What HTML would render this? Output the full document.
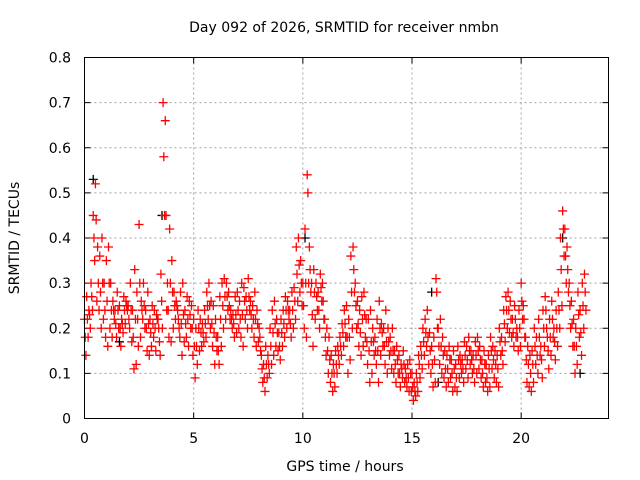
<!DOCTYPE html>
<html><head><meta charset="utf-8"><style>
html,body{margin:0;padding:0;background:#fff}
svg{display:block;font-family:"DejaVu Sans","Liberation Sans",sans-serif}
</style></head><body>
<svg id="chart" width="640" height="480" viewBox="0 0 640 480">
<rect x="0" y="0" width="640" height="480" fill="#fff"/>
<text x="344" y="32" text-anchor="middle" font-size="14" fill="#000">Day 092 of 2026, SRMTID for receiver nmbn</text>
<text transform="translate(19,238) rotate(-90)" text-anchor="middle" font-size="14">SRMTID / TECUs</text>
<text x="345" y="471" text-anchor="middle" font-size="14">GPS time / hours</text>
<g id="grid"></g>
<g id="ticks"></g>
<g id="marks"></g>
<rect x="84.5" y="57.5" width="524" height="361" fill="none" stroke="#000" stroke-width="1"/>
</svg>
<script>
const xTicks=[0,5,10,15,20];
const yTicks=[0,0.1,0.2,0.3,0.4,0.5,0.6,0.7,0.8];
const yTickLabels=["0","0.1","0.2","0.3","0.4","0.5","0.6","0.7","0.8"];
const seriesA=[.22,.27,.24,.30,.45,.52,.38,.36,.40,.30,.35,.38,.30,.26,.24,.28,.25,.22,.27,.26,.25,.30,.24,.33,.28,.43,.26,.30,.24,.28,.22,.25,.24,.23,.20,.32,.70,.66,.30,.42,.35,.28,.26,.22,.28,.30,.24,.27,.26,.25,.22,.20,.24,.22,.21,.24,.28,.30,.26,.25,.22,.18,.27,.30,.31,.30,.28,.24,.23,.27,.28,.26,.30,.29,.27,.31,.26,.25,.28,.24,.20,.14,.12,.16,.14,.20,.24,.26,.22,.19,.22,.24,.27,.26,.24,.28,.29,.38,.40,.35,.30,.42,.54,.38,.30,.33,.30,.28,.32,.30,.22,.20,.18,.14,.12,.15,.16,.18,.21,.24,.25,.22,.36,.38,.30,.26,.24,.27,.28,.22,.22,.24,.20,.18,.22,.26,.21,.20,.24,.20,.18,.20,.15,.16,.14,.12,.15,.11,.12,.13,.10,.08,.10,.14,.16,.20,.22,.24,.19,.16,.18,.31,.20,.22,.18,.15,.14,.16,.13,.15,.12,.16,.14,.13,.17,.16,.18,.15,.14,.17,.18,.16,.13,.15,.12,.14,.18,.16,.15,.14,.20,.18,.24,.27,.28,.26,.22,.25,.20,.24,.30,.25,.18,.16,.14,.15,.20,.18,.22,.16,.24,.27,.18,.22,.26,.20,.24,.28,.40,.46,.42,.38,.30,.26,.22,.20,.28,.24,.30,.32];
const seriesB=[.14,.18,.20,.24,.35,.26,.24,.20,.22,.18,.16,.20,.18,.22,.18,.20,.16,.19,.21,.24,.20,.17,.11,.12,.16,.18,.22,.20,.15,.14,.16,.18,.15,.22,.14,.20,.45,.24,.18,.17,.20,.22,.24,.18,.14,.17,.18,.16,.20,.14,.09,.12,.15,.16,.17,.18,.22,.20,.16,.12,.15,.12,.16,.20,.22,.24,.22,.20,.18,.19,.20,.18,.16,.22,.20,.24,.20,.18,.16,.17,.15,.08,.06,.09,.10,.12,.14,.16,.15,.13,.16,.18,.20,.22,.18,.20,.22,.26,.28,.25,.20,.18,.30,.28,.16,.22,.24,.20,.26,.22,.14,.10,.08,.06,.07,.10,.12,.14,.16,.18,.10,.13,.20,.28,.20,.16,.14,.16,.18,.12,.08,.10,.14,.12,.08,.14,.16,.12,.10,.14,.11,.10,.08,.10,.07,.09,.08,.07,.06,.06,.04,.05,.06,.09,.11,.14,.16,.12,.10,.07,.08,.20,.12,.10,.09,.07,.08,.09,.06,.07,.06,.09,.10,.08,.11,.09,.12,.10,.08,.10,.11,.09,.07,.08,.06,.07,.11,.09,.08,.07,.14,.12,.17,.20,.19,.18,.16,.18,.15,.16,.22,.18,.08,.07,.06,.08,.12,.10,.14,.09,.16,.20,.11,.14,.18,.13,.16,.20,.25,.36,.30,.28,.20,.16,.10,.12,.18,.14,.20,.24];
const seriesC=[.18,.22,.23,.27,.40,.44,.30,.28,.30,.24,.26,.30,.24,.24,.21,.24,.20,.21,.24,.25,.22,.24,.18,.22,.22,.30,.24,.25,.20,.21,.19,.21,.20,.22,.17,.26,.58,.45,.24,.30,.28,.25,.25,.20,.21,.23,.21,.22,.23,.20,.16,.16,.20,.19,.19,.21,.25,.25,.21,.19,.18,.15,.22,.25,.27,.27,.25,.22,.21,.23,.24,.22,.23,.26,.24,.27,.23,.22,.22,.21,.18,.11,.09,.12,.12,.16,.19,.21,.19,.16,.19,.21,.24,.24,.21,.24,.26,.32,.34,.30,.25,.30,.50,.33,.23,.28,.27,.24,.29,.26,.18,.15,.13,.10,.10,.12,.14,.16,.19,.21,.18,.18,.28,.33,.25,.21,.19,.22,.23,.17,.15,.17,.17,.15,.15,.20,.19,.16,.17,.17,.15,.15,.12,.13,.10,.11,.12,.09,.09,.10,.07,.06,.08,.12,.14,.17,.19,.18,.15,.12,.13,.28,.16,.16,.14,.11,.11,.13,.10,.11,.09,.13,.12,.11,.14,.13,.15,.13,.11,.14,.15,.13,.10,.12,.09,.11,.15,.13,.12,.11,.17,.15,.21,.24,.24,.22,.19,.22,.18,.20,.26,.22,.13,.12,.10,.12,.16,.14,.18,.13,.20,.24,.15,.18,.22,.17,.20,.24,.33,.42,.36,.33,.25,.21,.16,.16,.23,.19,.25,.28];
const blackTimes=[0.4,1.6,3.55,10.1,15.9,16.2,21.9,22.7];
const blackValues=[.53,.17,.45,.40,.28,.08,.40,.10];
const X0=84.5,XW=524,Y0=418.5,YH=361,XMAX=24,YMAX=0.8;
function xs(t){return X0+t/XMAX*XW}
function ys(v){return Y0-v/YMAX*YH}
const NS="http://www.w3.org/2000/svg";
const grid=document.getElementById('grid'),ticks=document.getElementById('ticks'),marks=document.getElementById('marks');
function el(tag,attrs,parent){const e=document.createElementNS(NS,tag);for(const k in attrs)e.setAttribute(k,attrs[k]);parent.appendChild(e);return e;}
xTicks.forEach(t=>{
  const x=xs(t);
  if(t>0){const g=el('line',{x1:x,x2:x,y1:57.5,y2:418.5,stroke:'#a0a0a0','stroke-dasharray':'2,3'},grid);
  
  }
  el('line',{x1:x,x2:x,y1:418.5,y2:412.5,stroke:'#000'},ticks);
  el('line',{x1:x,x2:x,y1:57.5,y2:63.5,stroke:'#000'},ticks);
  const tx=el('text',{x:x,y:443,'text-anchor':'middle','font-size':'14'},ticks);tx.textContent=t;
  
  
});
yTicks.forEach((v,i)=>{
  const y=ys(v);
  if(i>0&&i<yTicks.length-1){const g=el('line',{x1:84.5,x2:608.5,y1:y,y2:y,stroke:'#a0a0a0','stroke-dasharray':'2,3'},grid);
  
  }
  el('line',{x1:84.5,x2:90.5,y1:y,y2:y,stroke:'#000'},ticks);
  el('line',{x1:608.5,x2:602.5,y1:y,y2:y,stroke:'#000'},ticks);
  const tx=el('text',{x:71,y:y+5,'text-anchor':'end','font-size':'14'},ticks);tx.textContent=yTickLabels[i];
  
  
});
function plus(t,v,color,name){
  const x=xs(t),y=ys(v);
  const p=el('path',{d:`M${x-4.5},${y}H${x+4.5}M${x},${y-4.5}V${y+4.5}`,stroke:color,'stroke-width':'1.3',fill:'none'},marks);
  
  
}
blackTimes.forEach((t,i)=>plus(t,blackValues[i],'#000','point-black'));
seriesA.forEach((v,i)=>plus(i*0.1,v,'#ff0000','point-a'));
seriesC.forEach((v,i)=>plus(i*0.1+0.033,v,'#ff0000','point-c'));
seriesB.forEach((v,i)=>plus(i*0.1+0.066,v,'#ff0000','point-b'));
</script>
</body></html>
